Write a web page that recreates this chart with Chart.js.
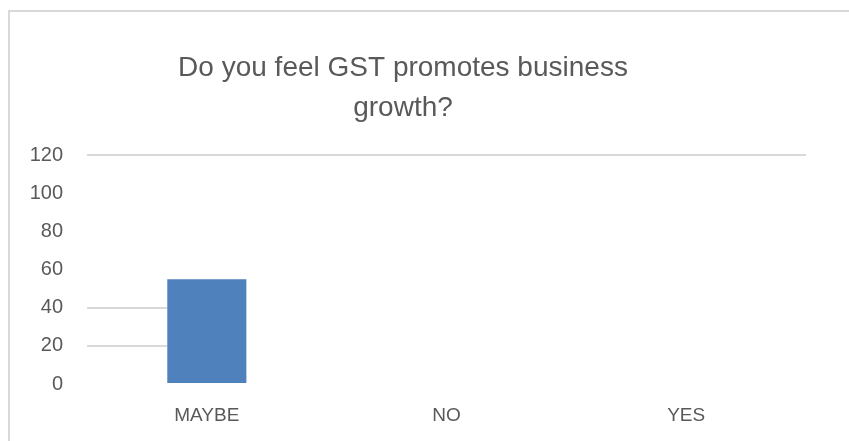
<!DOCTYPE html>
<html>
<head>
<meta charset="utf-8">
<script src="https://cdn.jsdelivr.net/npm/chart.js@4.4.1/dist/chart.umd.min.js"></script>
<style>
  html, body { margin: 0; padding: 0; background: #fff; overflow: hidden; }
  .wrap { position: relative; width: 849px; height: 441px; }
  .frame {
    position: absolute; left: 8px; top: 10px; width: 900px; height: 500px;
    border: 2px solid #d9d9d9; pointer-events: none;
  }
</style>
</head>
<body>
<div class="wrap">
  <canvas id="chart" width="849" height="441"></canvas>
  <div class="frame"></div>
</div>
<script>
const categories = ['MAYBE', 'NO', 'YES'];
const responses = [55, 0, 0];
const yTicks = { min: 0, max: 120, step: 20 };
const titleLines = ['Do you feel GST promotes business', 'growth?'];
// grid levels that only run from the axis up to the first bar
const shortGridValues = [20, 40];

const textColor = '#595959';
const gridColor = '#d9d9d9';
const font = 'Liberation Sans, Arial, sans-serif';

// partial gridlines left of the first bar
const shortGrid = {
  id: 'shortGrid',
  beforeDatasetsDraw(chart) {
    const { ctx, chartArea, scales } = chart;
    const bar = chart.getDatasetMeta(0).data[0];
    if (!bar) return;
    const end = bar.x - bar.width / 2;
    ctx.save();
    ctx.strokeStyle = gridColor;
    ctx.lineWidth = 2;
    shortGridValues.forEach((v) => {
      const y = Math.round(scales.y.getPixelForValue(v));
      ctx.beginPath();
      ctx.moveTo(chartArea.left, y);
      ctx.lineTo(end, y);
      ctx.stroke();
    });
    ctx.restore();
  },
};

new Chart(document.getElementById('chart'), {
  type: 'bar',
  data: {
    labels: categories,
    datasets: [{
      data: responses,
      backgroundColor: '#4f81bd',
      borderWidth: 0,
      barPercentage: 0.5,
      categoryPercentage: 0.66,
    }],
  },
  options: {
    responsive: false,
    animation: false,
    layout: { padding: { left: 0, right: 43, top: 0, bottom: 0 } },
    plugins: {
      legend: { display: false },
      tooltip: { enabled: false },
      title: {
        display: true,
        text: titleLines,
        color: textColor,
        font: { family: font, size: 28, weight: 'normal', lineHeight: 1.4 },
        padding: { top: 49, bottom: 28 },
      },
    },
    scales: {
      x: {
        afterFit(scale) { scale.height = 57; },
        grid: { display: false, drawTicks: false },
        border: { display: false },
        ticks: { color: textColor, font: { family: font, size: 19 }, padding: 20 },
      },
      y: {
        min: yTicks.min,
        max: yTicks.max,
        afterFit(scale) { scale.width = 87; },
        grid: {
          drawTicks: false,
          lineWidth: 2,
          color: (c) => (c.tick && c.tick.value === yTicks.max ? gridColor : 'transparent'),
        },
        border: { display: false },
        ticks: {
          stepSize: yTicks.step,
          color: textColor,
          font: { family: font, size: 20 },
          padding: 24,
        },
      },
    },
  },
  plugins: [shortGrid],
});
</script>
</body>
</html>
